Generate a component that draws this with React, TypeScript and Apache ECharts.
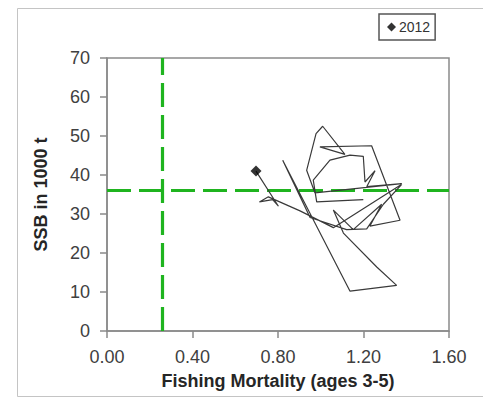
import React, { useEffect, useRef } from "react";
import * as echarts from "echarts";

const years: number[] = [
  1974, 1975, 1976, 1977, 1978, 1979, 1980, 1981, 1982, 1983, 1984, 1985, 1986,
  1987, 1988, 1989, 1990, 1991, 1992, 1993, 1994, 1995, 1996, 1997, 1998, 1999,
  2000, 2001, 2002, 2003, 2004, 2005, 2006, 2007, 2008, 2009, 2010, 2011, 2012,
];
const fishingMortality: number[] = [
  1.199, 0.981, 0.965, 1.043, 1.137, 1.199, 1.207, 1.254, 1.215, 1.379, 0.973,
  0.934, 0.978, 1.009, 1.113, 0.996, 1.238, 1.371, 1.23, 1.285, 1.152, 1.059,
  1.106, 1.262, 1.355, 1.137, 0.822, 0.95, 1.121, 1.215, 1.293, 1.379, 1.059,
  0.903, 0.755, 0.713, 0.775, 0.802, 0.697,
];
const ssb: number[] = [
  33.7, 33.1, 38.7, 43.8, 45.1, 44.8, 38.2, 41.1, 37.0, 37.8, 35.4, 41.2, 50.6,
  52.5, 45.3, 47.2, 47.5, 28.4, 26.9, 32.5, 26.0, 31.0, 25.1, 16.4, 11.7, 10.2,
  43.8, 29.1, 26.0, 26.2, 32.5, 37.6, 26.5, 30.8, 34.4, 33.1, 33.7, 32.0, 41.0,
];
const fLim = 0.26;
const bLim = 36;
const xTicks = { min: 0, max: 1.6, interval: 0.4 };
const yTicks = { min: 0, max: 70, interval: 10 };

export default function App() {
  const ref = useRef<HTMLDivElement>(null);
  useEffect(() => {
    document.body.style.margin = "0";
    if (!ref.current) return;
    const chart = echarts.init(ref.current, null, { renderer: "svg" });
    const pts = fishingMortality.map((f, i) => [f, ssb[i]]);
    const last = pts[pts.length - 1];
    const lastYear = String(years[years.length - 1]);
    const font = "'Liberation Sans', Arial, sans-serif";
    chart.setOption({
      animation: false,
      backgroundColor: "#fff",
      textStyle: { fontFamily: font },
      graphic: [
        {
          type: "rect",
          shape: { x: 17.5, y: 8.5, width: 480, height: 388 },
          style: { fill: "none", stroke: "#c4c4c4", lineWidth: 1 },
          silent: true,
        },
      ],
      grid: {
        left: 107,
        top: 58,
        right: 34,
        bottom: 68,
        show: true,
        borderColor: "#8a8a8a",
        borderWidth: 1.5,
        backgroundColor: "transparent",
      },
      legend: {
        left: 379,
        top: 14,
        padding: [6, 5, 6, 8],
        borderColor: "#555",
        borderWidth: 1.5,
        borderRadius: 0,
        icon: "diamond",
        itemWidth: 9,
        itemHeight: 9,
        itemGap: 5,
        data: [lastYear],
        textStyle: { fontSize: 14, color: "#333", fontFamily: font, padding: [0, 0, 0, -2] },
      },
      xAxis: {
        type: "value",
        min: xTicks.min,
        max: xTicks.max,
        interval: xTicks.interval,
        name: "Fishing Mortality (ages 3-5)",
        nameLocation: "middle",
        nameGap: 41,
        nameTextStyle: { fontSize: 18, fontWeight: "bold", color: "#262626", fontFamily: font },
        axisLine: { show: true, lineStyle: { color: "#8a8a8a", width: 1.5 } },
        axisTick: { show: true, length: 7, inside: false, lineStyle: { color: "#8a8a8a", width: 1.5 } },
        axisLabel: {
          fontSize: 18,
          color: "#404040",
          margin: 17,
          fontFamily: font,
          formatter: (v: number) => v.toFixed(2),
        },
        splitLine: { show: false },
      },
      yAxis: {
        type: "value",
        min: yTicks.min,
        max: yTicks.max,
        interval: yTicks.interval,
        name: "SSB in 1000 t",
        nameLocation: "middle",
        nameGap: 57,
        nameTextStyle: { fontSize: 18, fontWeight: "bold", color: "#262626", fontFamily: font },
        axisLine: { show: true, lineStyle: { color: "#8a8a8a", width: 1.5 } },
        axisTick: { show: true, length: 7, inside: false, lineStyle: { color: "#8a8a8a", width: 1.5 } },
        axisLabel: { fontSize: 18, color: "#404040", margin: 17, fontFamily: font },
        splitLine: { show: false },
      },
      series: [
        {
          type: "line",
          name: "trajectory",
          data: pts,
          showSymbol: false,
          symbol: "none",
          lineStyle: { color: "#3a3a3a", width: 1.2 },
          z: 3,
          markLine: {
            silent: true,
            symbol: "none",
            label: { show: false },
            lineStyle: { color: "#1fb41f", width: 3.2, type: [24, 8] },
            data: [{ xAxis: fLim }, { yAxis: bLim }],
            z: 2,
          },
        },
        {
          type: "scatter",
          name: lastYear,
          data: [last],
          symbol: "diamond",
          symbolSize: 11,
          itemStyle: { color: "#000" },
          z: 5,
        },
      ],
    });
    return () => chart.dispose();
  }, []);
  return <div ref={ref} style={{ width: 483, height: 399 }} />;
}
